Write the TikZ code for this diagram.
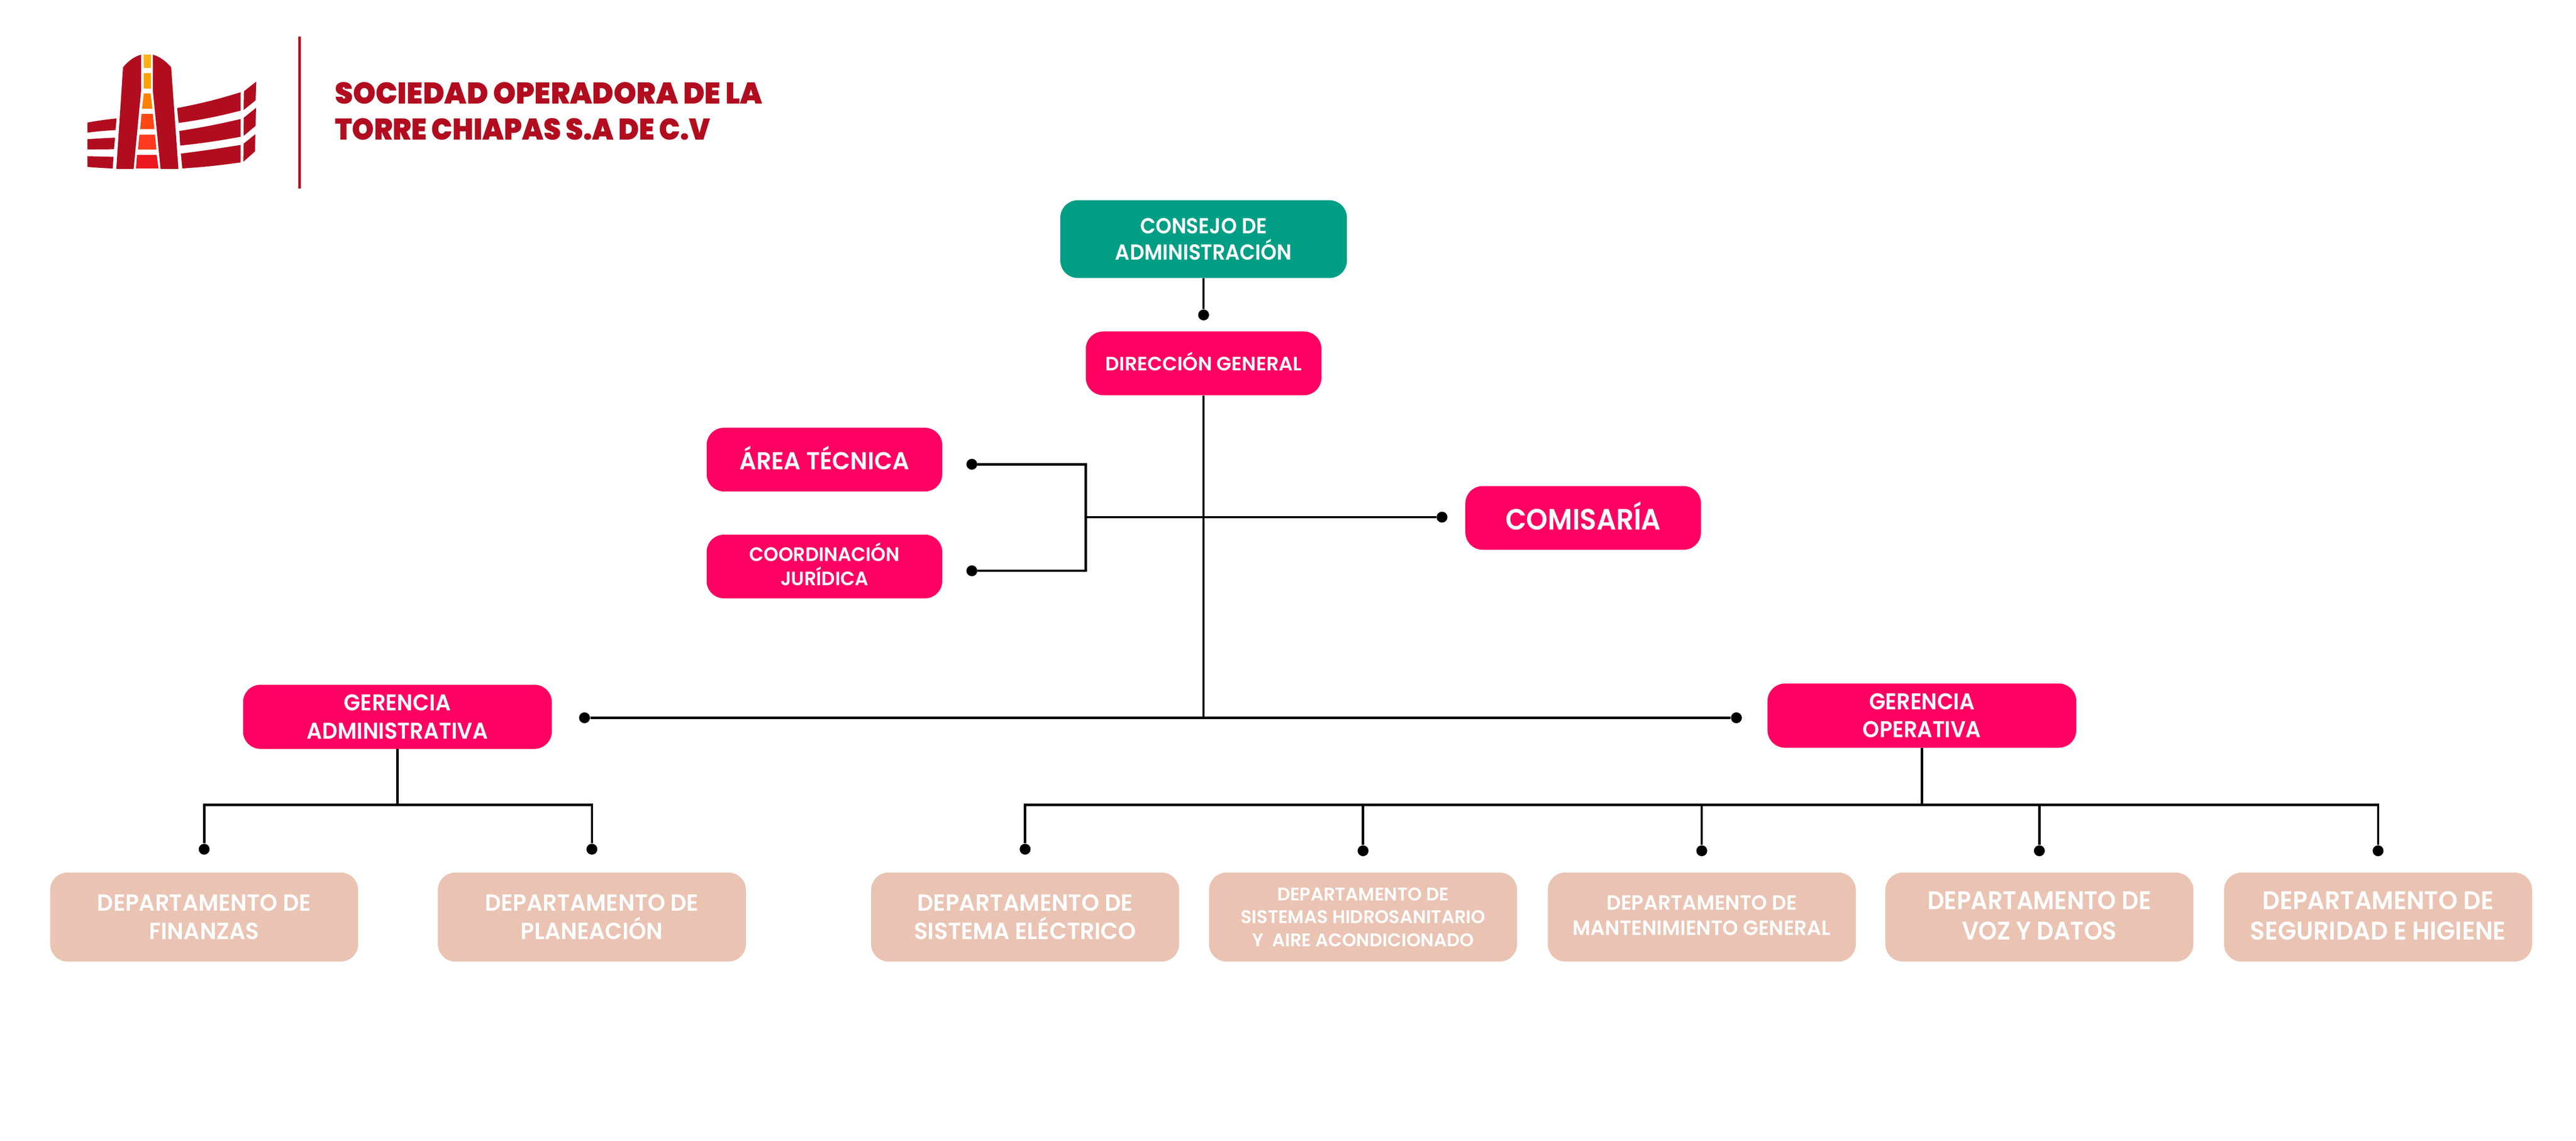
\documentclass[tikz,border=0pt]{standalone}
\usepackage{fontspec}
\setmainfont{Poppins}[BoldFont={Poppins SemiBold}]
\newfontfamily\titlefont{Poppins Black}[FakeStretch=.965]
\newfontfamily\titlefontb{Poppins Black}[FakeStretch=.93]
\definecolor{torrered}{HTML}{B20C1F}
\definecolor{consejogreen}{HTML}{009F85}
\definecolor{gerpink}{HTML}{FF0062}
\definecolor{deptpeach}{HTML}{EAC3B3}
\tikzset{
	orgbox/.style={rectangle, rounded corners=.45cm, inner sep=0pt, align=center, text=white},
	pinkbox/.style={orgbox, fill=gerpink, minimum width=6.06cm, minimum height=1.64cm},
	deptbox/.style={orgbox, fill=deptpeach, minimum width=7.92cm, minimum height=2.29cm},
	fsz/.style n args={3}{font=\bfseries\fontsize{#1}{#2}\selectfont\addfontfeature{FakeStretch=#3}},
	enddot/.style={circle, fill=black, inner sep=0pt, minimum size=.28cm},
	link/.style={line width=.06cm, black},
	wing/.style={fill=torrered, draw=none}
}
\begin{document}
\begin{tikzpicture}
	\useasboundingbox (0,0) rectangle (66.24,-29.34);
	% logo
	\begin{scope}[shift={(2,-1.2)}, x=.003333cm, y=-.003333cm]
		\fill[torrered] (350,160) .. controls (390,110) and (440,75) .. (490,62) -- (490,335) -- (432,945) -- (298,945) -- cycle;
		\fill[torrered] (580,62) .. controls (630,75) and (680,110) .. (722,160) -- (778,945) -- (640,945) -- (580,335) -- cycle;
		\fill[color={rgb,255:red,255;green,177;blue,20}] (508,62) -- (565,62) -- (565,165) -- (510,165) -- cycle;
		\fill[color={rgb,255:red,255;green,160;blue,0}] (510,203) -- (565,203) -- (565,325) -- (510,325) -- cycle;
		\fill[color={rgb,255:red,255;green,127;blue,0}] (510,362) -- (563,362) -- (577,480) -- (497,480) -- cycle;
		\fill[color={rgb,255:red,255;green,70;blue,21}] (493,520) -- (580,520) -- (592,638) -- (482,638) -- cycle;
		\fill[color={rgb,255:red,255;green,58;blue,30}] (477,680) -- (597,680) -- (608,796) -- (465,796) -- cycle;
		\fill[color={rgb,255:red,236;green,24;blue,32}] (458,837) -- (610,837) -- (624,942) -- (450,942) -- cycle;
		\fill[wing] (74,587) to[bend left=2] (300,555) -- (292,645) to[bend right=2] (74,665) -- cycle;
		\fill[wing] (74,716) to[bend left=1] (288,704) -- (280,793) -- (74,795) -- cycle;
		\fill[wing] (74,847) -- (276,852) -- (270,942) to[bend left=1] (74,930) -- cycle;
		\fill[wing] (768,475) to[bend right=3] (1258,353) -- (1258,495) to[bend left=3] (780,590) -- cycle;
		\fill[wing] (785,652) to[bend right=2] (1258,560) -- (1258,697) to[bend left=2] (792,765) -- cycle;
		\fill[wing] (797,827) to[bend right=1] (1258,760) -- (1258,895) to[bend left=2] (808,942) -- cycle;
		\fill[wing] (1285,345) -- (1380,270) -- (1375,415) -- (1282,490) -- cycle;
		\fill[wing] (1283,550) -- (1378,473) -- (1375,612) -- (1282,690) -- cycle;
		\fill[wing] (1282,750) -- (1373,677) -- (1370,810) -- (1280,890) -- cycle;
	\end{scope}
	\draw[torrered, line width=.07cm] (7.7,-.94) -- (7.7,-4.85);
	\node[anchor=west, align=left, text=torrered, inner sep=0pt, font=\titlefont\fontsize{21.9}{26.7}\selectfont] (titulo) at (8.61,-2.86) {SOCIEDAD OPERADORA DE LA\\\titlefontb TORRE CHIAPAS S.A DE C.V};
	% top of the chart
	\node[orgbox, fill=consejogreen, minimum width=7.37cm, minimum height=2cm, fsz={15.9}{19}{.93}] (consejo) at (30.95,-6.15) {CONSEJO DE\\ADMINISTRACIÓN};
	\node[pinkbox, text depth=.1cm, fsz={14.2}{17}{1}] (direccion) at (30.95,-9.345) {DIRECCIÓN GENERAL};
	\node[pinkbox, text depth=.1cm, fsz={17.9}{21}{.96}] (tecnica) at (21.2,-11.82) {ÁREA TÉCNICA};
	\node[pinkbox, text depth=.12cm, fsz={14.2}{17.6}{.97}] (juridica) at (21.2,-14.57) {COORDINACIÓN\\JURÍDICA};
	\node[pinkbox, text depth=.1cm, fsz={21.5}{25}{.93}] (comisaria) at (40.71,-13.32) {COMISARÍA};
	\node[pinkbox, minimum width=7.94cm, minimum height=1.65cm, fsz={16.7}{20.5}{.94}] (gerad) at (10.22,-18.435) {GERENCIA\\ADMINISTRATIVA};
	\node[pinkbox, minimum width=7.94cm, minimum height=1.65cm, fsz={16.7}{20.5}{.93}] (gerop) at (49.42,-18.405) {GERENCIA\\OPERATIVA};
	% dots and joints
	\node[enddot] (dconsejo) at (30.95,-8.1) {};
	\node[enddot] (dtecnica) at (24.99,-11.94) {};
	\node[enddot] (djuridica) at (24.99,-14.68) {};
	\node[enddot] (dcomisaria) at (37.08,-13.3) {};
	\node[enddot] (dgerad) at (15.03,-18.46) {};
	\node[enddot] (dgerop) at (44.65,-18.46) {};
	\coordinate (junta) at (27.92,-13.3);
	\coordinate (busad) at (10.22,-20.7);
	\coordinate (busop) at (49.42,-20.7);
	% departments
	\foreach \nm/\xp/\yd/\fs/\ld/\st/\dpt/\txt in {
		finanzas/5.25/21.84/17.1/20.8/.96/0/{DEPARTAMENTO DE\\FINANZAS},
		planeacion/15.22/21.84/17.1/20.8/.96/0/{DEPARTAMENTO DE\\PLANEACIÓN},
		electrico/26.36/21.84/17.1/20.8/.97/0/{DEPARTAMENTO DE\\SISTEMA ELÉCTRICO},
		hidro/35.05/21.88/13.4/16.8/.985/0/{DEPARTAMENTO DE\\SISTEMAS HIDROSANITARIO\\Y\ \ AIRE ACONDICIONADO},
		mantto/43.76/21.88/15/18.5/.975/.08/{DEPARTAMENTO DE\\MANTENIMIENTO GENERAL},
		voz/52.44/21.88/18.7/22.2/.92/.08/{DEPARTAMENTO DE\\VOZ Y DATOS},
		seguridad/61.15/21.88/18.7/22.2/.95/.08/{DEPARTAMENTO DE\\SEGURIDAD E HIGIENE}}
	{
		\node[deptbox, text depth=\dpt cm, fsz={\fs}{\ld}{\st}] (\nm) at (\xp,-23.585) {\txt};
		\node[enddot] (d\nm) at (\xp,-\yd) {};
	}
	% connectors
	\draw[link] (consejo.south) -- (dconsejo);
	\draw[link] (direccion.south) -- (direccion.south |- dgerad);
	\draw[link] (dtecnica) -| (junta) |- (djuridica);
	\draw[link] (junta) -- (dcomisaria);
	\draw[link] (dgerad) -- (dgerop);
	\draw[link] (gerad.south) -- (busad);
	\draw[link] (gerop.south) -- (busop);
	\draw[link] (dfinanzas) |- (busad) -| (dplaneacion);
	\draw[link] (delectrico) |- (busop) -| (dseguridad);
	\foreach \nm in {hidro,mantto,voz}
		\draw[link] (d\nm) -- (d\nm |- busop);
\end{tikzpicture}
\end{document}
